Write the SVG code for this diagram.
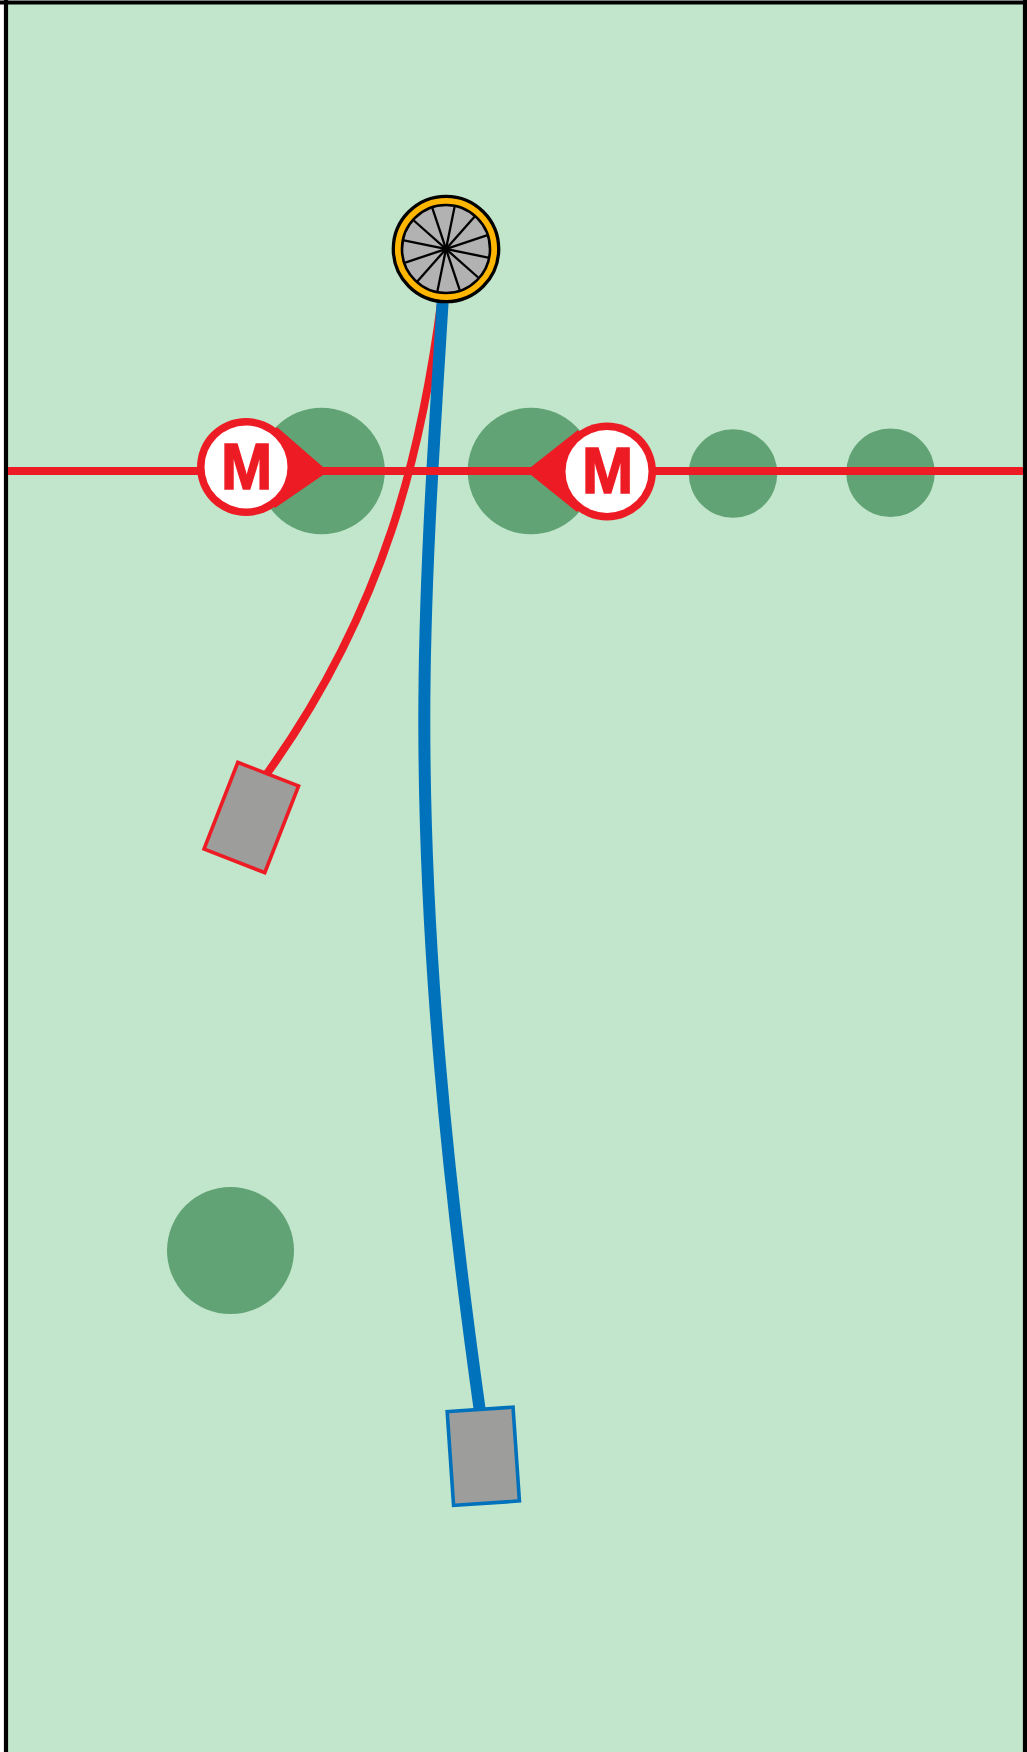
<svg xmlns="http://www.w3.org/2000/svg" width="1027" height="1752" viewBox="0 0 1027 1752">
<style>
.tree{fill:#61a375}
.sled{fill:#9d9d9c;stroke-width:3.6}
.wire{fill:none;stroke-linecap:butt}
.red{stroke:#ed1c24}
.blue{stroke:#0072bc}
.bang{fill:#ed1c24}
.face{fill:#fff}
.m{font-family:"Liberation Sans",Arial,sans-serif;font-weight:700;font-size:64px;fill:#ed1c24;stroke:#ed1c24;stroke-width:1.6;text-anchor:middle}
.spoke{stroke:#000;stroke-width:2.3}
</style>
<g id="field">
<rect x="0" y="0" width="1027" height="1752" fill="#fff"/>
<rect x="6" y="3" width="1019" height="1749" fill="#c2e6cb"/>
<path d="M0 2.5H1027M6 0V1752M1025 0V1752" fill="none" stroke="#000" stroke-width="4.2"/>
</g>
<g id="trees">
<circle id="tree-1" class="tree" cx="321.5" cy="471" r="63.3"/>
<circle id="tree-2" class="tree" cx="531" cy="471" r="63.3"/>
<circle id="tree-3" class="tree" cx="733" cy="473.5" r="44.3"/>
<circle id="tree-4" class="tree" cx="890.5" cy="472.7" r="44.3"/>
<circle id="tree-5" class="tree" cx="230.5" cy="1250.5" r="63.5"/>
</g>
<g id="connectors">
<path class="wire red" stroke-width="8" d="M442 296C432 374 417.7 452 391.7 530C364.4 612 325 693 266 775"/>
<path class="wire blue" stroke-width="12" d="M443 296C434.3 436 424.3 580 424.3 720C424.3 950 447.8 1182 480 1412"/>
<path class="wire red" stroke-width="8" d="M8 471H1023"/>
</g>
<g id="marker-left">
<polygon class="bang" points="323,467 323,475 275,508 246,467 277,427"/>
<circle class="bang" cx="246" cy="467" r="49"/>
<circle class="face" cx="246" cy="467" r="41.5"/>
<text class="m" transform="translate(246.5 489.2) scale(.96 1)">M</text>
</g>
<g id="marker-right">
<polygon class="bang" points="531,467 531,475 577,512 607,471 578,430"/>
<circle class="bang" cx="607" cy="471.5" r="49"/>
<circle class="face" cx="607" cy="471.5" r="41.5"/>
<text class="m" transform="translate(607.5 493.2) scale(.96 1)">M</text>
</g>
<g id="wheel">
<circle cx="446" cy="249" r="52.7" fill="#ffb600" stroke="#000" stroke-width="3.3"/>
<circle cx="446" cy="249" r="44" fill="#b2b2b2" stroke="#000" stroke-width="2.6"/>
<g transform="translate(446 249)">
<line class="spoke" y1="-43" y2="43" transform="rotate(11.5)"/>
<line class="spoke" y1="-43" y2="43" transform="rotate(41.5)"/>
<line class="spoke" y1="-43" y2="43" transform="rotate(71.5)"/>
<line class="spoke" y1="-43" y2="43" transform="rotate(101.5)"/>
<line class="spoke" y1="-43" y2="43" transform="rotate(131.5)"/>
<line class="spoke" y1="-43" y2="43" transform="rotate(161.5)"/>
</g>
</g>
<g id="sled-red">
<rect class="sled red" x="-32.6" y="-46.5" width="65.2" height="93" transform="translate(251.3 817.5) rotate(21.3)"/>
</g>
<g id="sled-blue">
<rect class="sled blue" x="-33" y="-47" width="66" height="94" transform="translate(483.3 1456.3) rotate(-3.9)"/>
</g>
</svg>
